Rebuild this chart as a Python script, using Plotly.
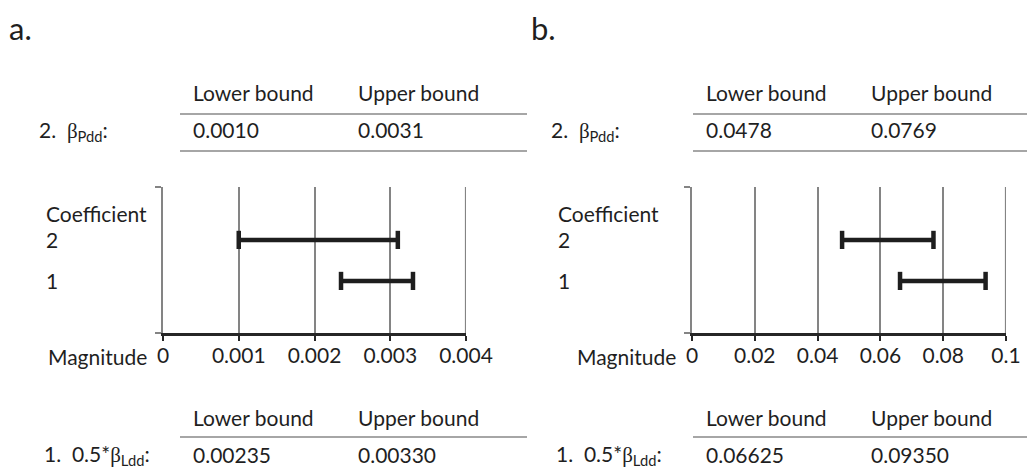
import plotly.graph_objects as go

W, H = 1027, 471
FONT = "Lato"
TXT = "#1f1f1f"
GRID = "#848484"
RULE = "#a6a6a6"
FS = 21

# ---- data ----
coefficients = [2, 1]
coef_labels = ["2", "1"]
a_lower = [0.0010, 0.00235]
a_upper = [0.0031, 0.00330]
b_lower = [0.0478, 0.06625]
b_upper = [0.0769, 0.09350]
a_ticks = [0, 0.001, 0.002, 0.003, 0.004]
a_ticktext = ["0", "0.001", "0.002", "0.003", "0.004"]
b_ticks = [0, 0.02, 0.04, 0.06, 0.08, 0.1]
b_ticktext = ["0", "0.02", "0.04", "0.06", "0.08", "0.1"]
table_header = ["Lower bound", "Upper bound"]
a_row2 = ["0.0010", "0.0031"]
a_row1 = ["0.00235", "0.00330"]
b_row2 = ["0.0478", "0.0769"]
b_row1 = ["0.06625", "0.09350"]
panel_titles = ["a.", "b."]

BETA = "<span style='font-family:Liberation Serif'>β</span>"
label2 = "2.  " + BETA + "<sub>Pdd</sub>:"
label1 = "1.  0.5*" + BETA + "<sub>Ldd</sub>:"


def px(x):
    return x / W


def py(y):
    return 1 - y / H


fig = go.Figure()

panels = [
    dict(lo=a_lower, hi=a_upper, ticks=a_ticks, tt=a_ticktext, x0=163, x1=466,
         xa="x", ya="y", row2=a_row2, row1=a_row1, off=0, tl=180, tr=527),
    dict(lo=b_lower, hi=b_upper, ticks=b_ticks, tt=b_ticktext, x0=692, x1=1006,
         xa="x2", ya="y2", row2=b_row2, row1=b_row1, off=512, tl=693, tr=1027),
]

annotations = []
shapes = []
Y0, Y1 = 187, 333
yr = [-0.27, 3.29]
PAD = 3

for i, p in enumerate(panels):
    for c, lo, hi in zip(coefficients, p["lo"], p["hi"]):
        fig.add_trace(go.Scatter(
            x=[lo, hi], y=[c, c], mode="lines+markers",
            line=dict(color="#1e1e1e", width=4.5),
            marker=dict(symbol="line-ns", size=13, line=dict(color="#1e1e1e", width=4.5)),
            xaxis=p["xa"], yaxis=p["ya"], showlegend=False, hoverinfo="skip"))
    sfx = "" if i == 0 else "2"
    fig.update_layout(**{
        "xaxis" + sfx: dict(domain=[px(p["x0"]), px(p["x1"])], range=[p["ticks"][0], p["ticks"][-1]],
                            tickvals=p["ticks"], ticktext=p["tt"], showgrid=True, gridcolor=GRID,
                            gridwidth=2.2, zeroline=False, showline=True, linecolor="#262626",
                            linewidth=2.5, ticks="outside", ticklen=5, tickwidth=2,
                            tickcolor="#262626", tickfont=dict(family=FONT, size=FS, color=TXT),
                            ticklabelstandoff=-3, anchor=p["ya"], fixedrange=True),
        "yaxis" + sfx: dict(domain=[py(Y1), py(Y0)], range=yr, tickvals=yr, showticklabels=False,
                            ticks="outside", ticklen=6, tickwidth=2, tickcolor=GRID,
                            showline=True, linecolor=GRID, linewidth=2.2, showgrid=False,
                            zeroline=False, anchor=p["xa"], fixedrange=True),
    })
    shapes.append(dict(type="line", xref=p["xa"], yref=p["ya"] + " domain",
                       x0=p["ticks"][-1], x1=p["ticks"][-1], y0=0, y1=1,
                       line=dict(color=GRID, width=2.2), layer="below"))
    off = p["off"]
    annotations.append(dict(text=panel_titles[i], x=px(10 + off + (10 if i else 0) - PAD), y=py(28),
                            xanchor="left", yanchor="middle", font=dict(size=31)))
    annotations.append(dict(text="Coefficient", x=px(45 + off + 2 - PAD), y=py(213),
                            xanchor="left", yanchor="middle"))
    for c, lab in zip(coefficients, coef_labels):
        annotations.append(dict(text=lab, x=px(45 + off + 2 - PAD), y=c, yref=p["ya"],
                                xanchor="left", yanchor="middle"))
    annotations.append(dict(text="Magnitude", x=px(p["x0"] - 17 + PAD), y=py(356),
                            xanchor="right", yanchor="middle"))
    cl = p["tl"] + 14 - PAD
    cr = p["tl"] + 179 - PAD
    for (hy, ly, vy, by, lab, row, lx) in [
        (93, 114, 130, 151, label2, p["row2"], 40 + off),
        (417, 437, 454, None, label1, p["row1"], 45 + off),
    ]:
        annotations.append(dict(text=table_header[0], x=px(cl), y=py(hy), xanchor="left", yanchor="middle"))
        annotations.append(dict(text=table_header[1], x=px(cr), y=py(hy), xanchor="left", yanchor="middle"))
        annotations.append(dict(text=row[0], x=px(cl), y=py(vy), xanchor="left", yanchor="middle"))
        annotations.append(dict(text=row[1], x=px(cr), y=py(vy), xanchor="left", yanchor="middle"))
        annotations.append(dict(text=lab, x=px(lx - PAD), y=py(vy + 1), xanchor="left", yanchor="middle"))
        for yy in [ly, by]:
            if yy is None:
                continue
            shapes.append(dict(type="line", xref="paper", yref="paper", x0=px(p["tl"]), x1=px(p["tr"]),
                               y0=py(yy), y1=py(yy), line=dict(color=RULE, width=2)))

for a in annotations:
    a.setdefault("xref", "paper")
    a.setdefault("yref", "paper")
    a["showarrow"] = False
    f = a.get("font", {})
    f.setdefault("family", FONT)
    f.setdefault("size", FS)
    f.setdefault("color", TXT)
    a["font"] = f

fig.update_layout(width=W, height=H, margin=dict(l=0, r=0, t=0, b=0, autoexpand=False),
                  autosize=False,
                  paper_bgcolor="white", plot_bgcolor="white",
                  annotations=annotations, shapes=shapes,
                  font=dict(family=FONT, size=FS, color=TXT))

fig.write_html("out.html",
               config={"displayModeBar": False, "responsive": False},
               post_script="document.body.style.margin='0';document.body.style.overflow='hidden';")
